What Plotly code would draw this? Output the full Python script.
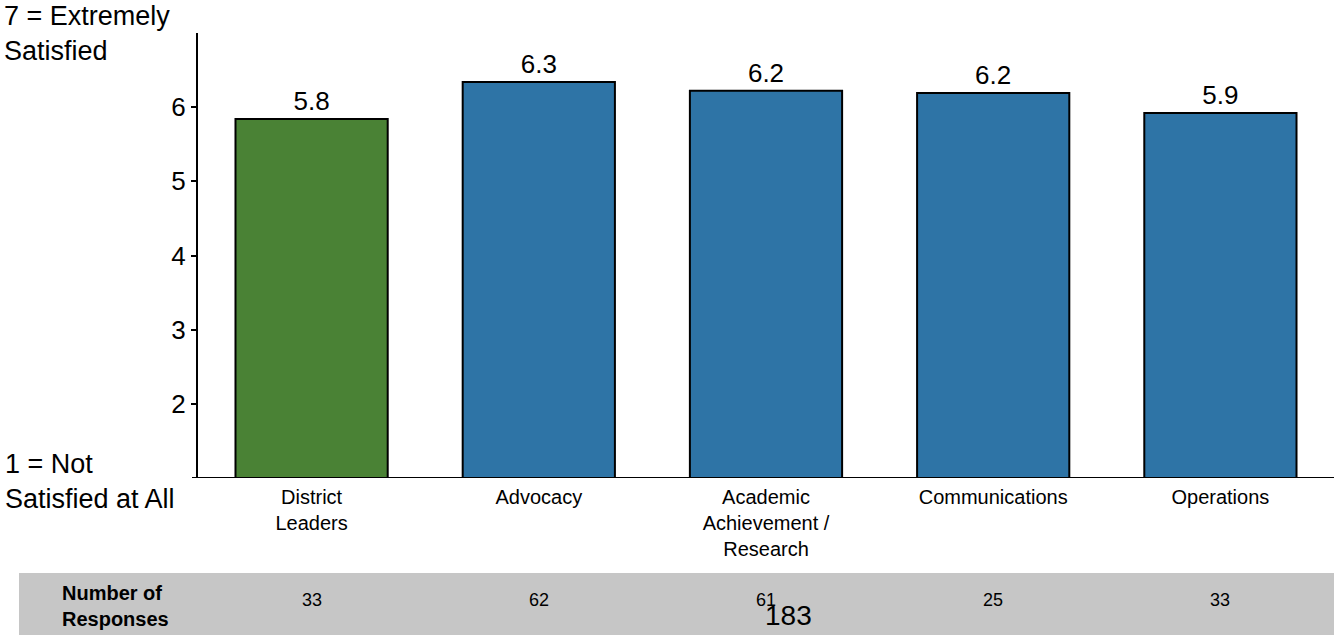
import plotly.graph_objects as go

categories = ["District<br>Leaders", "Advocacy", "Academic<br>Achievement /<br>Research",
              "Communications", "Operations"]
scores = [5.84, 6.34, 6.22, 6.19, 5.92]
responses = [33, 62, 61, 25, 33]
bar_colors = ["#4A8235", "#2E74A6", "#2E74A6", "#2E74A6", "#2E74A6"]
y_ticks = [2, 3, 4, 5, 6]
total_responses = 183

W, H = 1334, 635
L, R, T, B = 198, 0, 33, 157
pw = W - L - R
ph = H - T - B

def px_x(x):
    return (x - L) / pw

def px_y(y):
    return (H - B - y) / ph

FONT = "Liberation Sans, Arial, sans-serif"

fig = go.Figure()
fig.add_trace(go.Bar(
    x=categories, y=scores,
    marker=dict(color=bar_colors, line=dict(color="black", width=2)),
    text=[f"{v:.1f}" for v in scores],
    textposition="outside",
    textfont=dict(family=FONT, size=26, color="black"),
    cliponaxis=False,
    width=0.67,
    hoverinfo="skip",
))

annotations = [
    dict(text="7 = Extremely<br>Satisfied", xref="paper", yref="paper",
         x=px_x(2), y=px_y(-1), xanchor="left", yanchor="top", align="left",
         showarrow=False, font=dict(family=FONT, size=27, color="black")),
    dict(text="1 = Not<br>Satisfied at All", xref="paper", yref="paper",
         x=px_x(3), y=px_y(481), xanchor="left", yanchor="middle", align="left",
         showarrow=False, font=dict(family=FONT, size=27, color="black")),
    dict(text="<b>Number of<br>Responses</b>", xref="paper", yref="paper",
         x=px_x(60), y=px_y(606), xanchor="left", yanchor="middle", align="left",
         showarrow=False, font=dict(family=FONT, size=20, color="black")),
    dict(text=str(total_responses), xref="paper", yref="paper",
         x=px_x(788), y=px_y(615), xanchor="center", yanchor="middle",
         showarrow=False, font=dict(family=FONT, size=28, color="black")),
]
for c, n in zip(categories, responses):
    annotations.append(dict(text=str(n), xref="x", yref="paper", x=c, y=px_y(600),
                            xanchor="center", yanchor="middle", showarrow=False,
                            font=dict(family=FONT, size=18, color="black")))

shapes = [
    dict(type="rect", xref="paper", yref="paper", x0=px_x(19), x1=px_x(1334),
         y0=px_y(635), y1=px_y(573), fillcolor="#C6C6C6", line=dict(width=0), layer="below"),
    dict(type="line", xref="paper", yref="y", x0=px_x(192), x1=1, y0=1, y1=1,
         line=dict(color="black", width=2)),
]

fig.update_layout(
    width=W, height=H,
    margin=dict(l=L, r=R, t=T, b=B, pad=0),
    paper_bgcolor="white", plot_bgcolor="white",
    showlegend=False,
    font=dict(family=FONT, color="black"),
    annotations=annotations, shapes=shapes,
    xaxis=dict(showline=False, showgrid=False, ticks="", zeroline=False,
               ticklabelstandoff=5,
               tickfont=dict(family=FONT, size=20, color="black"), fixedrange=True),
    yaxis=dict(range=[1, 7], tickvals=y_ticks, showline=True, linecolor="black", linewidth=2,
               ticks="outside", ticklen=5, tickwidth=2, tickcolor="black",
               showgrid=False, zeroline=False,
               tickfont=dict(family=FONT, size=26, color="black"), fixedrange=True),
)

fig.write_html("out.html")
